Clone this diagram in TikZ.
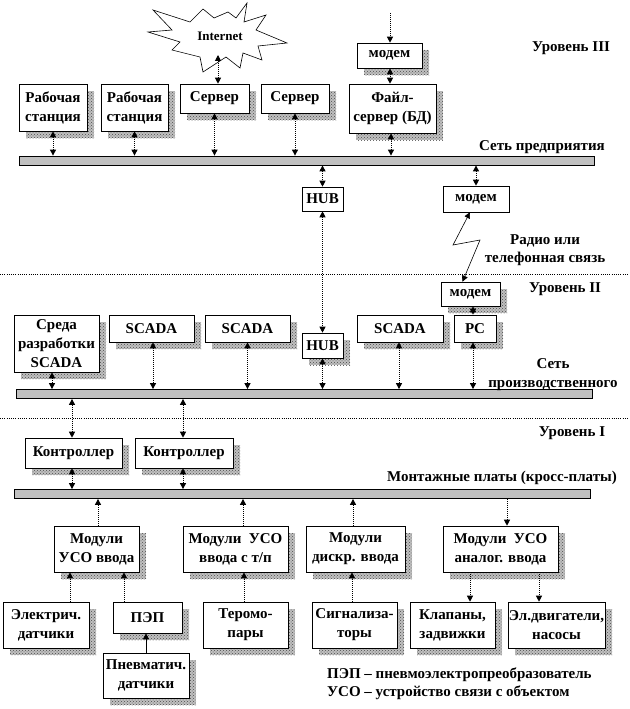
\documentclass[tikz,border=0pt]{standalone}
\usepackage{fontspec}
\setmainfont{Liberation Serif}
\usetikzlibrary{arrows.meta,patterns}
\definecolor{busc}{RGB}{192,192,192}
\begin{document}
\begin{tikzpicture}[x=1pt,y=-1pt,
 every node/.style={font=\fontsize{15}{19}\selectfont\bfseries},
 box/.style={draw, fill=white, line width=0.6pt, align=center, inner sep=1pt},
 shbox/.style={box},
 shadowfill/.style={fill=busc, postaction={pattern=crosshatch dots, pattern color=black!70}},
 bus/.style={draw, fill=busc, line width=0.8pt, inner sep=0pt, minimum height=9pt},
 tri/.tip={Triangle[width=6pt,length=6pt]},
 link/.style={line width=1pt, densely dotted, tri-tri},
 tolink/.style={line width=1pt, densely dotted, -tri},
 sep/.style={line width=0.7pt, dash pattern=on 0.7pt off 1.5pt},
 lbl/.style={inner sep=0pt}
]
\useasboundingbox (0,0) rectangle (629,709);

% ---------- shadows ----------
\path[shadowfill] (26,91) rectangle (94,138);
\path[shadowfill] (108,91) rectangle (175,138);
\path[shadowfill] (187,91) rectangle (256,120);
\path[shadowfill] (268,91) rectangle (336,120);
\path[shadowfill] (364,50) rectangle (429,75);
\path[shadowfill] (356,91) rectangle (443,140);
\path[shadowfill] (448,289) rectangle (507,313);
\path[shadowfill] (461,322) rectangle (503,349);
\path[shadowfill] (309,340) rectangle (350,365);
\path[shadowfill] (21,322) rectangle (106,379);
\path[shadowfill] (116,322) rectangle (201,349);
\path[shadowfill] (212,322) rectangle (297,349);
\path[shadowfill] (364,322) rectangle (450,349);
\path[shadowfill] (32,445) rectangle (129,475);
\path[shadowfill] (142,445) rectangle (240,475);
\path[shadowfill] (61,533) rectangle (146,579);
\path[shadowfill] (190,533) rectangle (295,579);
\path[shadowfill] (313,533) rectangle (412,579);
\path[shadowfill] (450,533) rectangle (565,579);
\path[shadowfill] (10,609) rectangle (96,655);
\path[shadowfill] (120,609) rectangle (189,640);
\path[shadowfill] (110,660) rectangle (196,705);
\path[shadowfill] (210,609) rectangle (295,655);
\path[shadowfill] (319,609) rectangle (404,655);
\path[shadowfill] (417,609) rectangle (502,655);
\path[shadowfill] (515,609) rectangle (612,655);

% ---------- Level III ----------
\draw[fill=white, line width=0.6pt] (148,32) -- (172,30) -- (153,10) -- (190,22) -- (203,9) -- (214,18) -- (228,12) -- (236,18) -- (247,3) -- (244,22) -- (266,15) -- (256,30) -- (287,43) -- (258,46) -- (262,60) -- (243,53) -- (240,68) -- (226,57) -- (203,72) -- (200,57) -- (172,50) -- (180,42) -- cycle;
\node[lbl, font=\fontsize{13}{15}\selectfont\bfseries] (inet) at (220,36) {Internet};
\coordinate (inetb) at (218,55);

\node[shbox, minimum width=68pt, minimum height=47pt] (ws1) at (53,107.5) {Рабочая\\станция};
\node[shbox, minimum width=67pt, minimum height=47pt] (ws2) at (134.5,107.5) {Рабочая\\станция};
\node[shbox, minimum width=69pt, minimum height=29pt] (srv1) at (214.5,98.5) {Сервер};
\node[shbox, minimum width=68pt, minimum height=29pt] (srv2) at (295,98.5) {Сервер};
\node[shbox, minimum width=65pt, minimum height=25pt] (modemTop) at (389.5,55.5) {модем};
\node[shbox, minimum width=87pt, minimum height=49pt] (fileSrv) at (392.5,108.5) {Файл-\\сервер (БД)};
\coordinate (tel) at (390,13);

\node[bus, minimum width=575pt] (bus1) at (306.5,160.5) {};
\node[lbl] (lvl3) at (571,48) {Уровень III};
\node[lbl] (net1) at (542,147) {Сеть предприятия};

\draw[link] (inetb) -- (inetb |- srv1.north);
\draw[tolink] (tel) -- (tel |- modemTop.north);
\draw[link] (modemTop.south -| tel) -- (tel |- fileSrv.north);
\draw[link] (ws1.south) -- (ws1.south |- bus1.north);
\draw[link] (ws2.south) -- (ws2.south |- bus1.north);
\draw[link] (srv1.south) -- (srv1.south |- bus1.north);
\draw[link] (srv2.south) -- (srv2.south |- bus1.north);
\draw[link] ([xshift=-1.5pt]fileSrv.south) -- ([xshift=-1.5pt]fileSrv.south |- bus1.north);

% ---------- between III and II ----------
\node[box, minimum width=41pt, minimum height=24pt] (hub1) at (322.5,199) {HUB};
\node[box, minimum width=66pt, minimum height=26pt] (modemMid) at (476,199) {модем};
\draw[link] (hub1.north |- bus1.south) -- (hub1.north);
\draw[link] (modemMid.north |- bus1.south) -- (modemMid.north);
\node[lbl] (radio1) at (545,241) {Радио или};
\node[lbl] (radio2) at (545,259) {телефонная связь};

\draw[sep] (0,274) -- (629,274);

% ---------- Level II ----------
\node[shbox, minimum width=59pt, minimum height=24pt] (modemLow) at (470.5,294) {модем};
\node[shbox, minimum width=42pt, minimum height=27pt] (pc) at (475,328.5) {PC};
\node[shbox, minimum width=41pt, minimum height=25pt] (hub2) at (322.5,345.5) {HUB};
\node[shbox, minimum width=85pt, minimum height=57pt] (sreda) at (56.5,343.5) {Среда\\разработки\\SCADA};
\node[shbox, minimum width=85pt, minimum height=27pt] (scada1) at (151.5,328.5) {SCADA};
\node[shbox, minimum width=85pt, minimum height=27pt] (scada2) at (247.5,328.5) {SCADA};
\node[shbox, minimum width=86pt, minimum height=27pt] (scada3) at (400,328.5) {SCADA};
\node[bus, minimum width=576pt] (bus2) at (304,394) {};
\node[lbl] (lvl2) at (565,289) {Уровень II};
\node[lbl, align=center] (net2) at (553,375) {Сеть\\производственного};

\draw[link] (hub1.south) -- (hub2.north);
\draw[line width=0.6pt, tri-tri] ([xshift=-6pt]modemMid.south) -- (453,245) -- (480,240) -- ([xshift=-8pt]modemLow.north);
\draw[link] ([xshift=-2pt]pc.north |- modemLow.south) -- ([xshift=-2pt]pc.north);
\draw[link] ([xshift=-4.5pt]sreda.south) -- ([xshift=-4.5pt]sreda.south |- bus2.north);
\draw[link] ([xshift=1.5pt]scada1.south) -- ([xshift=1.5pt]scada1.south |- bus2.north);
\draw[link] (scada2.south) -- (scada2.south |- bus2.north);
\draw[link] (hub2.south) -- (hub2.south |- bus2.north);
\draw[link] ([xshift=-1pt]scada3.south) -- ([xshift=-1pt]scada3.south |- bus2.north);
\draw[link] ([xshift=-2pt]pc.south) -- ([xshift=-2pt]pc.south |- bus2.north);

\draw[sep] (0,418) -- (629,418);

% ---------- Level I ----------
\node[shbox, minimum width=97pt, minimum height=30pt] (ctrl1) at (73.5,453) {Контроллер};
\node[shbox, minimum width=98pt, minimum height=30pt] (ctrl2) at (184,453) {Контроллер};
\node[bus, minimum width=576pt] (bus3) at (302,494) {};
\node[lbl] (lvl1) at (572,433) {Уровень I};
\node[lbl] (mont) at (502,478) {Монтажные платы (кросс-платы)};

\draw[link] ([xshift=-1.5pt]ctrl1.north |- bus2.south) -- ([xshift=-1.5pt]ctrl1.north);
\draw[link] ([xshift=-1pt]ctrl2.north |- bus2.south) -- ([xshift=-1pt]ctrl2.north);
\draw[link] ([xshift=-1.5pt]ctrl1.south) -- ([xshift=-1.5pt]ctrl1.south |- bus3.north);
\draw[link] ([xshift=-1pt]ctrl2.south) -- ([xshift=-1pt]ctrl2.south |- bus3.north);

\node[shbox, minimum width=85pt, minimum height=46pt] (mod1) at (96.5,549) {Модули\\УСО ввода};
\node[shbox, minimum width=105pt, minimum height=46pt] (mod2) at (235.5,549) {Модули~ УСО\\ввода с т/п};
\node[shbox, minimum width=99pt, minimum height=46pt] (mod3) at (355.5,549) {Модули\\дискр. ввода};
\node[shbox, minimum width=115pt, minimum height=46pt] (mod4) at (500.5,549) {Модули~ УСО\\аналог. ввода};

\draw[tolink] ([xshift=1.5pt]mod1.north) -- ([xshift=1.5pt]mod1.north |- bus3.south);
\draw[tolink] ([xshift=7.5pt]mod2.north) -- ([xshift=7.5pt]mod2.north |- bus3.south);
\draw[tolink] ([xshift=-2.5pt]mod3.north) -- ([xshift=-2.5pt]mod3.north |- bus3.south);
\draw[tolink] ([xshift=6.5pt]mod4.north |- bus3.south) -- ([xshift=6.5pt]mod4.north);

\node[shbox, minimum width=86pt, minimum height=46pt] (el) at (46,625) {Электрич.\\датчики};
\node[shbox, minimum width=69pt, minimum height=31pt] (pep) at (147.5,617.5) {ПЭП};
\node[shbox, minimum width=86pt, minimum height=45pt] (pnev) at (146,675.5) {Пневматич.\\датчики};
\node[shbox, minimum width=85pt, minimum height=46pt] (termo) at (245.5,625) {Теромо-\\пары};
\node[shbox, minimum width=85pt, minimum height=46pt] (sig) at (354.5,625) {Сигнализа-\\торы};
\node[shbox, minimum width=85pt, minimum height=46pt] (klap) at (452.5,625) {Клапаны,\\задвижки};
\node[shbox, minimum width=97pt, minimum height=46pt] (eld) at (556.5,625) {Эл.двигатели,\\насосы};

\draw[tolink] ([xshift=24pt]el.north) -- ([xshift=24pt]el.north |- mod1.south);
\draw[tolink] ([xshift=-23.5pt]pep.north) -- ([xshift=-23.5pt]pep.north |- mod1.south);
\draw[line width=0.8pt, -tri] (pnev.north) -- (pnev.north |- pep.south);
\draw[tolink] ([xshift=-1.5pt]termo.north) -- ([xshift=-1.5pt]termo.north |- mod2.south);
\draw[tolink] ([xshift=-2.5pt]sig.north) -- ([xshift=-2.5pt]sig.north |- mod3.south);
\draw[tolink] ([xshift=17.5pt]klap.north |- mod4.south) -- ([xshift=17.5pt]klap.north);
\draw[tolink] ([xshift=-17.5pt]eld.north |- mod4.south) -- ([xshift=-17.5pt]eld.north);

\node[lbl, anchor=west] (leg1) at (327,675) {ПЭП – пневмоэлектропреобразователь};
\node[lbl, anchor=west] (leg2) at (327,693) {УСО – устройство связи с объектом};
\end{tikzpicture}
\end{document}
